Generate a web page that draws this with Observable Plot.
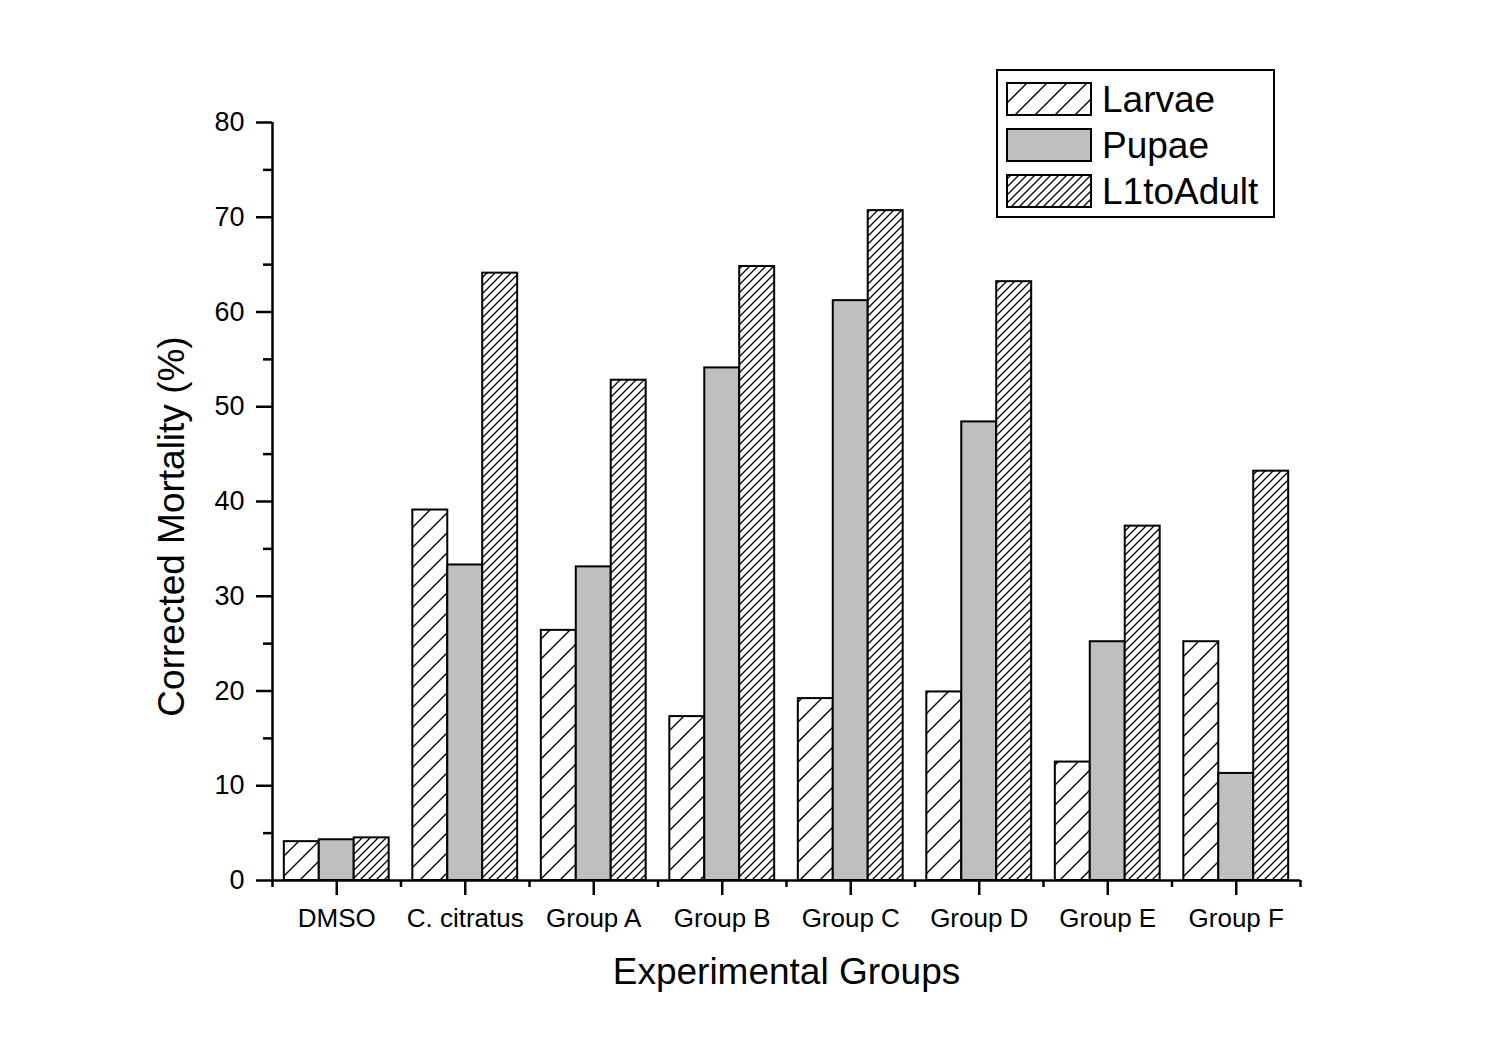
<!DOCTYPE html>
<html>
<head>
<meta charset="utf-8">
<script src="https://cdn.jsdelivr.net/npm/d3@7"></script>
<script src="https://cdn.jsdelivr.net/npm/@observablehq/plot@0.6"></script>
<style>
  body { margin: 0; background: #fff; }
  #wrap { position: relative; width: 1511px; height: 1055px; font-family: "Liberation Sans", Arial, sans-serif; }
  #legend { position: absolute; left: 990px; top: 60px; }
</style>
</head>
<body>
<div id="wrap"></div>
<script>
const groups = ["DMSO", "C. citratus", "Group A", "Group B", "Group C", "Group D", "Group E", "Group F"];
const series = ["Larvae", "Pupae", "L1toAdult"];
const larvae    = [4.1, 39.1, 26.4, 17.3, 19.2, 19.9, 12.5, 25.2];
const pupae     = [4.3, 33.3, 33.1, 54.1, 61.2, 48.4, 25.2, 11.3];
const l1toAdult = [4.5, 64.1, 52.8, 64.8, 70.7, 63.2, 37.4, 43.2];
const yTicks = [0, 10, 20, 30, 40, 50, 60, 70, 80];
const yMinor = [5, 15, 25, 35, 45, 55, 65, 75];

const values = {Larvae: larvae, Pupae: pupae, L1toAdult: l1toAdult};
const pad = 0.092, bw = 0.272;
const data = [];
groups.forEach((g, i) => series.forEach((s, k) => {
  data.push({group: g, gi: i, series: s, k, value: values[s][i]});
}));

const fills = ["url(#hatchL)", "#bfbfbf", "url(#hatchA)"];

const chart = Plot.plot({
  width: 1511, height: 1055,
  marginLeft: 272, marginRight: 211, marginTop: 122, marginBottom: 175,
  style: {fontFamily: "'Liberation Sans', Arial, sans-serif", background: "#fff", color: "#000"},
  x: {type: "linear", domain: [0, groups.length]},
  y: {domain: [0, 80]},
  color: {domain: series, range: fills},
  marks: [
    Plot.rectY(data, {
      x1: d => d.gi + pad + d.k * bw,
      x2: d => d.gi + pad + (d.k + 1) * bw,
      y1: 0, y2: "value",
      fill: "series", stroke: "#000", strokeWidth: 2
    }),
    Plot.ruleX([0], {stroke: "#000", strokeWidth: 2.5}),
    Plot.ruleY([0], {stroke: "#000", strokeWidth: 2.5}),
    Plot.axisY(yTicks, {tickSize: 16, tickPadding: 12, fontSize: 27, strokeWidth: 2.5, label: null}),
    Plot.axisY(yMinor, {tickSize: 9, tickFormat: () => "", strokeWidth: 2.5, label: null}),
    Plot.axisX(groups.map((g, i) => i + 0.5), {
      tickSize: 15, tickPadding: 13, fontSize: 26, strokeWidth: 2.5, label: null,
      tickFormat: d => groups[Math.floor(d)]
    }),
    Plot.axisX(d3.range(0, groups.length + 1), {tickSize: 7, tickFormat: () => "", strokeWidth: 2.5, label: null}),
    Plot.text(["Experimental Groups"], {text: d => d, frameAnchor: "bottom", lineAnchor: "middle", dy: 92, fontSize: 37}),
    Plot.text(["Corrected Mortality (%)"], {text: d => d, frameAnchor: "left", textAnchor: "middle", lineAnchor: "middle", rotate: -90, dx: -100, dy: 25, fontSize: 37})
  ]
});

function addPatterns(svg, suffix) {
  const defs = svg.insert("defs", ":first-child");
  const pl = defs.append("pattern").attr("id", "hatchL" + suffix)
    .attr("patternUnits", "userSpaceOnUse").attr("width", 20).attr("height", 20);
  pl.append("rect").attr("width", 20).attr("height", 20).attr("fill", "#fff");
  pl.append("path").attr("d", "M-5,5L5,-5M0,20L20,0M15,25L25,15")
    .attr("stroke", "#000").attr("stroke-width", 1.4);
  const pa = defs.append("pattern").attr("id", "hatchA" + suffix)
    .attr("patternUnits", "userSpaceOnUse").attr("width", 8).attr("height", 8);
  pa.append("rect").attr("width", 8).attr("height", 8).attr("fill", "#fff");
  pa.append("path").attr("d", "M-2,2L2,-2M0,8L8,0M6,10L10,6")
    .attr("stroke", "#000").attr("stroke-width", 1.3);
}
addPatterns(d3.select(chart), "");
document.getElementById("wrap").appendChild(chart);

// Legend
const leg = d3.select("#wrap").append("svg").attr("id", "legend")
  .attr("width", 300).attr("height", 170);
addPatterns(leg, "Leg");
leg.append("rect").attr("x", 7).attr("y", 10).attr("width", 277).attr("height", 147)
  .attr("fill", "#fff").attr("stroke", "#000").attr("stroke-width", 2);
const legFills = ["url(#hatchLLeg)", "#bfbfbf", "url(#hatchALeg)"];
series.forEach((s, k) => {
  const y0 = 23 + k * 46;
  leg.append("rect").attr("x", 17).attr("y", y0).attr("width", 84).attr("height", 32)
    .attr("fill", legFills[k]).attr("stroke", "#000").attr("stroke-width", 2);
  leg.append("text").attr("x", 112).attr("y", y0 + 29).attr("font-size", 37)
    .attr("font-family", "'Liberation Sans', Arial, sans-serif").text(s);
});
</script>
</body>
</html>
